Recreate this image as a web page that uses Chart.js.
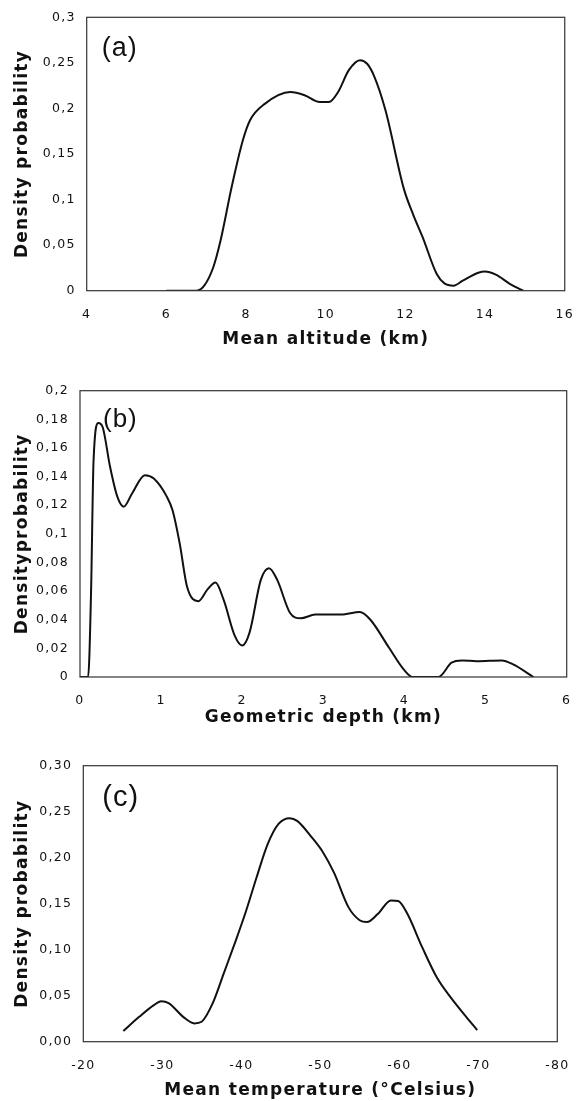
<!DOCTYPE html>
<html>
<head>
<meta charset="utf-8">
<script src="https://cdn.jsdelivr.net/npm/chart.js@4.4.1/dist/chart.umd.min.js"></script>
<style>
  html, body { margin: 0; padding: 0; background: #ffffff; }
  body { width: 576px; height: 1101px; position: relative; overflow: hidden; }
  .panel { position: absolute; left: 0; width: 576px; }
  canvas { display: block; }
</style>
</head>
<body>
<div class="panel" id="pa" style="top:0px;height:352px;"><canvas id="ca"></canvas></div>
<div class="panel" id="pb" style="top:352px;height:376px;"><canvas id="cb"></canvas></div>
<div class="panel" id="pc" style="top:728px;height:373px;"><canvas id="cc"></canvas></div>
<script>
// ---------- Panel (a): mean altitude ----------
const altitudeKm = [6.0, 6.76, 6.95, 7.18, 7.36, 7.64, 7.92, 8.10, 8.47, 9.11, 9.47, 9.85, 10.08, 10.31, 10.58, 10.86, 11.04, 11.22, 11.5, 11.96, 12.2, 12.43, 12.79, 12.98, 13.21, 13.44, 13.85, 13.99, 14.27, 14.63, 14.96];
const altitudeDensity = [0, 0, 0.0055, 0.026, 0.055, 0.114, 0.165, 0.187, 0.205, 0.218, 0.2145, 0.207, 0.207, 0.218, 0.242, 0.253, 0.249, 0.235, 0.198, 0.112, 0.083, 0.059, 0.018, 0.008, 0.0055, 0.011, 0.020, 0.021, 0.0176, 0.0073, 0];
const altitudeXTicks = [4, 6, 8, 10, 12, 14, 16];
const altitudeXLabels = ['4', '6', '8', '10', '12', '14', '16'];
const altitudeYTicks = [0, 0.05, 0.1, 0.15, 0.2, 0.25, 0.3];
const altitudeYLabels = ['0', '0,05', '0,1', '0,15', '0,2', '0,25', '0,3'];

// ---------- Panel (b): geometric depth ----------
const depthKm = [0, 0.1, 0.136, 0.167, 0.226, 0.28, 0.37, 0.46, 0.54, 0.64, 0.80, 0.91, 1.07, 1.14, 1.23, 1.32, 1.46, 1.57, 1.67, 1.77, 1.91, 2.0, 2.09, 2.23, 2.33, 2.43, 2.59, 2.72, 2.9, 3.22, 3.45, 3.58, 3.81, 3.99, 4.10, 4.42, 4.58, 4.71, 4.89, 5.2, 5.34, 5.59];
const depthDensity = [0, 0, 0.0586, 0.151, 0.1775, 0.1745, 0.147, 0.126, 0.119, 0.128, 0.141, 0.1386, 0.126, 0.1166, 0.093, 0.063, 0.053, 0.061, 0.066, 0.054, 0.0285, 0.022, 0.031, 0.068, 0.076, 0.068, 0.0447, 0.041, 0.0436, 0.0436, 0.0454, 0.040, 0.0204, 0.0053, 0, 0, 0.01, 0.0116, 0.011, 0.0116, 0.0088, 0];
const depthXTicks = [0, 1, 2, 3, 4, 5, 6];
const depthXLabels = ['0', '1', '2', '3', '4', '5', '6'];
const depthYTicks = [0, 0.02, 0.04, 0.06, 0.08, 0.1, 0.12, 0.14, 0.16, 0.18, 0.2];
const depthYLabels = ['0', '0,02', '0,04', '0,06', '0,08', '0,1', '0,12', '0,14', '0,16', '0,18', '0,2'];

// ---------- Panel (c): mean temperature ----------
const temperatureC = [-25.07, -27.07, -28.93, -29.86, -30.8, -32.65, -34.05, -34.98, -36.37, -37.77, -39.16, -40.56, -41.95, -43.35, -44.74, -46.14, -47.07, -48.93, -50.33, -51.72, -53.58, -54.98, -55.9, -57.3, -58.93, -59.86, -61.02, -62.88, -64.74, -66.6, -68.47, -69.86];
const temperatureDensity = [0.0116, 0.027, 0.0398, 0.044, 0.042, 0.027, 0.0199, 0.0217, 0.0416, 0.074, 0.1066, 0.141, 0.179, 0.215, 0.237, 0.243, 0.240, 0.222, 0.206, 0.184, 0.146, 0.132, 0.130, 0.139, 0.1536, 0.153, 0.139, 0.103, 0.070, 0.047, 0.027, 0.0126];
const temperatureXTicks = [-20, -30, -40, -50, -60, -70, -80];
const temperatureXLabels = ['-20', '-30', '-40', '-50', '-60', '-70', '-80'];
const temperatureYTicks = [0, 0.05, 0.10, 0.15, 0.20, 0.25, 0.30];
const temperatureYLabels = ['0,00', '0,05', '0,10', '0,15', '0,20', '0,25', '0,30'];

const SPACING = '1.3px';
const spacingPlugin = {
  id: 'textSpacing',
  beforeUpdate(chart) { chart.ctx.letterSpacing = SPACING; },
  beforeLayout(chart) { chart.ctx.letterSpacing = SPACING; },
  beforeDraw(chart) { chart.ctx.letterSpacing = SPACING; }
};

const boxPlugin = {
  id: 'plotBox',
  afterDraw(chart) {
    const a = chart.chartArea, ctx = chart.ctx;
    ctx.save();
    ctx.strokeStyle = '#333333';
    ctx.lineWidth = 1.2;
    ctx.strokeRect(a.left, a.top, a.right - a.left, a.bottom - a.top);
    const o = chart.options.plugins.panelLabel;
    if (o) {
      ctx.letterSpacing = '1px';
      ctx.fillStyle = '#111111';
      ctx.font = o.size + 'px "Liberation Sans", Arial, sans-serif';
      ctx.textAlign = 'left';
      ctx.textBaseline = 'alphabetic';
      ctx.fillText(o.text, a.left + o.dx, a.top + o.dy);
    }
    ctx.restore();
  }
};

function makeChart(id, cfg) {
  const tickFont = { family: '"DejaVu Sans", Verdana, sans-serif', size: 12.5 };
  const titleFont = { family: '"DejaVu Sans", Verdana, sans-serif', size: 17, weight: 'bold' };
  return new Chart(document.getElementById(id), {
    type: 'line',
    data: {
      datasets: [{
        data: cfg.xs.map((x, i) => ({ x: x, y: cfg.ys[i] })),
        borderColor: '#111111',
        borderWidth: 2,
        pointRadius: 0,
        fill: false,
        cubicInterpolationMode: 'monotone'
      }]
    },
    options: {
      animation: false,
      responsive: true,
      maintainAspectRatio: false,
      layout: { padding: { top: cfg.padTop, right: cfg.padRight, left: 0, bottom: 0 } },
      plugins: {
        legend: { display: false },
        tooltip: { enabled: false },
        panelLabel: cfg.label
      },
      scales: {
        x: {
          type: 'linear',
          min: cfg.xMin, max: cfg.xMax,
          reverse: !!cfg.xReverse,
          grid: { display: false, drawTicks: true, tickLength: cfg.xTickPad - 2 },
          border: { display: false },
          afterBuildTicks: s => { s.ticks = cfg.xTicks.map(v => ({ value: v })); },
          afterFit: s => { s.height = cfg.xHeight; },
          ticks: {
            autoSkip: false, maxRotation: 0, padding: 2,
            color: '#111111', font: tickFont,
            callback: (v, i) => cfg.xLabels[i]
          },
          title: {
            display: true, text: cfg.xTitle, color: '#111111', font: titleFont,
            padding: { top: 0, bottom: cfg.xTitlePad }
          }
        },
        y: {
          type: 'linear',
          min: cfg.yMin, max: cfg.yMax,
          grid: { display: false, drawTicks: true, tickLength: 11 },
          border: { display: false },
          afterBuildTicks: s => { s.ticks = cfg.yTicks.map(v => ({ value: v })); },
          afterFit: s => { s.width = cfg.yWidth; },
          ticks: {
            autoSkip: false, padding: 0,
            color: '#111111', font: tickFont,
            callback: (v, i) => cfg.yLabels[i]
          },
          title: {
            display: true, text: cfg.yTitle, color: '#111111', font: titleFont,
            padding: { top: 12.5, bottom: 0 }
          }
        }
      }
    },
    plugins: [spacingPlugin, boxPlugin]
  });
}

makeChart('ca', {
  xs: altitudeKm, ys: altitudeDensity,
  xMin: 4, xMax: 16, yMin: 0, yMax: 0.3,
  xTicks: altitudeXTicks, xLabels: altitudeXLabels,
  yTicks: altitudeYTicks, yLabels: altitudeYLabels,
  xTitle: 'Mean altitude (km)', yTitle: 'Density probability',
  padTop: 17.3, padRight: 10.3, yWidth: 86.7, xHeight: 352 - 290.7,
  xTickPad: 17, xTitlePad: 2,
  label: { text: '(a)', size: 27, dx: 15, dy: 39 }
});

makeChart('cb', {
  xs: depthKm, ys: depthDensity,
  xMin: 0, xMax: 6, yMin: 0, yMax: 0.2,
  xTicks: depthXTicks, xLabels: depthXLabels,
  yTicks: depthYTicks, yLabels: depthYLabels,
  xTitle: 'Geometric depth (km)', yTitle: 'Densityprobability',
  padTop: 38.7, padRight: 9.3, yWidth: 80, xHeight: 376 - 325,
  xTickPad: 16, xTitlePad: 0,
  label: { text: '(b)', size: 26, dx: 23, dy: 36 }
});

makeChart('cc', {
  xs: temperatureC, ys: temperatureDensity,
  xMin: -80, xMax: -20, xReverse: true, yMin: 0, yMax: 0.3,
  xTicks: temperatureXTicks, xLabels: temperatureXLabels,
  yTicks: temperatureYTicks, yLabels: temperatureYLabels,
  xTitle: 'Mean temperature (°Celsius)', yTitle: 'Density probability',
  padTop: 37.7, padRight: 18.7, yWidth: 83.3, xHeight: 373 - 313.7,
  xTickPad: 17, xTitlePad: 0.5,
  label: { text: '(c)', size: 29, dx: 19, dy: 40 }
});
</script>
</body>
</html>
